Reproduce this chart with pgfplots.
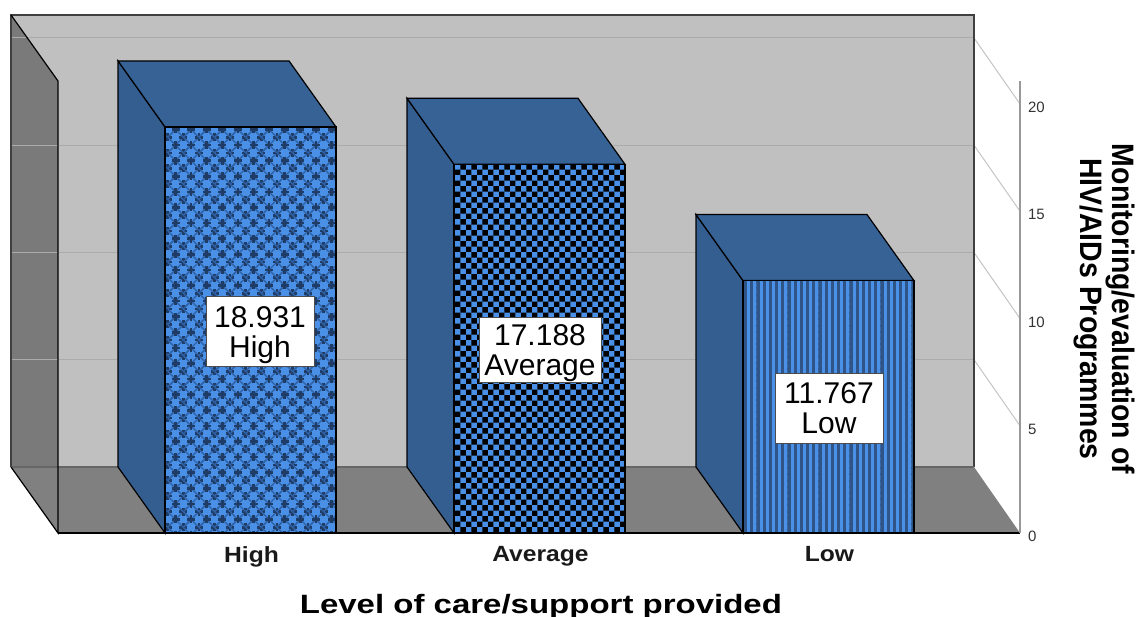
\documentclass[border=0pt]{standalone}
\usepackage{pgfplots}
\pgfplotsset{compat=1.18}
\usepackage{fontspec}
\setmainfont{Liberation Sans}
\usetikzlibrary{patterns}
\definecolor{wallback}{HTML}{C0C0C0}
\definecolor{wallside}{HTML}{7A7A7A}
\definecolor{floorc}{HTML}{808080}
\definecolor{barface}{HTML}{366296}
\definecolor{barside}{HTML}{345E90}
\definecolor{barlight}{HTML}{4A90E6}
\definecolor{bardark}{HTML}{1E3C66}
\definecolor{barmid}{HTML}{2F62A6}
\definecolor{stripedark}{HTML}{2E5488}
\definecolor{gridc}{HTML}{ABABAB}
\definecolor{diagc}{HTML}{C4C4C4}
\pgfdeclarepatterninherentlycolored{starpat}{\pgfqpoint{-4pt}{-4pt}}{\pgfqpoint{20pt}{20pt}}{\pgfqpoint{15.6pt}{15.6pt}}{%
  \pgfsetstrokecolor{barmid}\pgfsetlinewidth{1.4pt}%
  \pgfpathmoveto{\pgfqpoint{-3.9pt}{-3.9pt}}\pgfpathlineto{\pgfqpoint{19.5pt}{19.5pt}}%
  \pgfpathmoveto{\pgfqpoint{-3.9pt}{11.7pt}}\pgfpathlineto{\pgfqpoint{11.7pt}{-3.9pt}}\pgfusepath{stroke}%
  \pgfsetfillcolor{bardark}%
  \pgfpathrectangle{\pgfqpoint{2.6pt}{-0.1pt}}{\pgfqpoint{2.6pt}{8pt}}\pgfusepath{fill}%
  \pgfpathrectangle{\pgfqpoint{-0.1pt}{2.6pt}}{\pgfqpoint{8pt}{2.6pt}}\pgfusepath{fill}%
  \pgfpathrectangle{\pgfqpoint{10.4pt}{7.7pt}}{\pgfqpoint{2.6pt}{8pt}}\pgfusepath{fill}%
  \pgfpathrectangle{\pgfqpoint{7.7pt}{10.4pt}}{\pgfqpoint{8pt}{2.6pt}}\pgfusepath{fill}%
}
\pgfdeclarepatterninherentlycolored{checkpat}{\pgfpointorigin}{\pgfqpoint{11.4pt}{11.4pt}}{\pgfqpoint{11.4pt}{11.4pt}}{%
  \pgfsetfillcolor{black}%
  \pgfpathrectangle{\pgfpointorigin}{\pgfqpoint{5.7pt}{5.7pt}}\pgfusepath{fill}%
  \pgfpathrectangle{\pgfqpoint{5.7pt}{5.7pt}}{\pgfqpoint{5.7pt}{5.7pt}}\pgfusepath{fill}%
}
\pgfdeclarepatterninherentlycolored{stripepat}{\pgfqpoint{0pt}{-1pt}}{\pgfqpoint{6.2pt}{7.2pt}}{\pgfqpoint{6.2pt}{6.2pt}}{%
  \pgfsetfillcolor{stripedark}%
  \pgfpathrectangle{\pgfqpoint{0pt}{-1pt}}{\pgfqpoint{3.1pt}{8.2pt}}\pgfusepath{fill}%
}
\tikzset{valbox/.style={draw=black!70,line width=1pt,fill=white,align=center,
  font=\fontsize{30}{30}\selectfont,inner sep=0pt,text depth=0pt}}
\begin{document}
\begin{tikzpicture}
\path[use as bounding box] (-58pt,-84pt) rectangle (1079pt,533pt);
\begin{axis}[
  anchor=south west, at={(0pt,0pt)},
  scale only axis, width=962pt, height=452pt,
  xmin=-0.6661, xmax=2.6626, ymin=0, ymax=21.072,
  clip=false, axis on top,
  axis x line=bottom, axis y line=right,
  x axis line style={-,black,line width=1.4pt},
  y axis line style={-,black!40,line width=1.2pt},
  major tick length=0pt,
  xtick={0,1,2}, xticklabels={\scalebox{1.12}[1]{High},\scalebox{1.12}[1]{Average},\scalebox{1.12}[1]{Low}},
  ytick={0,5,10,15,20},
  /pgf/number format/assume math mode=true,
  x tick label style={font=\bfseries\fontsize{22}{22}\selectfont,text=black!90,yshift=-10pt,xshift=1pt},
  y tick label style={font=\fontsize{15}{15}\selectfont,text=black!80,yshift=-3.5pt,xshift=4.5pt},
  xlabel={\scalebox{1.245}[1]{Level of care/support provided}},
  xlabel style={font=\bfseries\fontsize{26.5}{26.5}\selectfont,at={(axis description cs:0.502,-0.162)},anchor=center},
  ylabel={\scalebox{0.917}[1]{Monitoring/evaluation of}\\\scalebox{0.917}[1]{HIV/AIDs Programmes}},
  ylabel style={font=\bfseries\fontsize{31}{32}\selectfont,align=center,rotate=180,at={(axis description cs:1.088,0.4956)},anchor=center},
]
% back wall
\addplot[fill=wallback,draw=none] coordinates {(-0.8287,24.149)(2.5035,24.149)(2.5035,3.077)(-0.8287,3.077)} -- cycle;
% left wall
\addplot[fill=wallside,draw=none] coordinates {(-0.8287,24.149)(-0.6661,21.072)(-0.6661,0)(-0.8287,3.077)} -- cycle;
% floor
\addplot[fill=floorc,draw=none] coordinates {(-0.8287,3.077)(2.5035,3.077)(2.6626,0)(-0.6661,0)} -- cycle;
% grid on back wall and its run to the axis
\addplot[gridc,line width=1pt] coordinates {(-0.8287,23.077)(2.5035,23.077)};
\addplot[gridc,line width=1pt] coordinates {(-0.8287,18.077)(2.5035,18.077)};
\addplot[gridc,line width=1pt] coordinates {(-0.8287,13.077)(2.5035,13.077)};
\addplot[gridc,line width=1pt] coordinates {(-0.8287,8.077)(2.5035,8.077)};
\addplot[diagc,line width=1pt] coordinates {(2.5035,23.077)(2.6626,20)};
\addplot[diagc,line width=1pt] coordinates {(2.5035,18.077)(2.6626,15)};
\addplot[diagc,line width=1pt] coordinates {(2.5035,13.077)(2.6626,10)};
\addplot[diagc,line width=1pt] coordinates {(2.5035,8.077)(2.6626,5)};
% frame lines
\addplot[black!75,line width=2.2pt] coordinates {(-0.8287,3.077)(-0.8287,24.149)(2.5035,24.149)(2.5035,3.077)};
\addplot[black!60,line width=1.5pt] coordinates {(-0.8287,3.077)(2.5035,3.077)};
\addplot[black,line width=1.2pt] coordinates {(-0.8287,24.149)(-0.6661,21.072)(-0.6661,0)(-0.8287,3.077)};
% High
\addplot[fill=barside,draw=black,line width=1.2pt] coordinates {(-0.2958,0)(-0.4584,3.077)(-0.4584,22.008)(-0.2958,18.931)} -- cycle;
\addplot[fill=barface,draw=black,line width=1.2pt] coordinates {(-0.2958,18.931)(-0.4584,22.008)(0.1332,22.008)(0.2958,18.931)} -- cycle;
\addplot[ybar,bar shift=0pt,bar width=0.5916,fill=barlight,draw=none,postaction={pattern=starpat}] coordinates {(0,18.931)};
\addplot[ybar,bar shift=0pt,bar width=0.5916,draw=black,line width=1.2pt,fill=none] coordinates {(0,18.931)};
% Average
\addplot[fill=barside,draw=black,line width=1.2pt] coordinates {(0.7042,0)(0.5416,3.077)(0.5416,20.265)(0.7042,17.188)} -- cycle;
\addplot[fill=barface,draw=black,line width=1.2pt] coordinates {(0.7042,17.188)(0.5416,20.265)(1.1332,20.265)(1.2958,17.188)} -- cycle;
\addplot[ybar,bar shift=0pt,bar width=0.5916,fill=barlight,draw=none,postaction={pattern=checkpat}] coordinates {(1,17.188)};
\addplot[ybar,bar shift=0pt,bar width=0.5916,draw=black,line width=1.2pt,fill=none] coordinates {(1,17.188)};
% Low
\addplot[fill=barside,draw=black,line width=1.2pt] coordinates {(1.7042,0)(1.5416,3.077)(1.5416,14.844)(1.7042,11.767)} -- cycle;
\addplot[fill=barface,draw=black,line width=1.2pt] coordinates {(1.7042,11.767)(1.5416,14.844)(2.1332,14.844)(2.2958,11.767)} -- cycle;
\addplot[ybar,bar shift=0pt,bar width=0.5916,fill=barlight,draw=none,postaction={pattern=stripepat}] coordinates {(2,11.767)};
\addplot[ybar,bar shift=0pt,bar width=0.5916,draw=black,line width=1.2pt,fill=none] coordinates {(2,11.767)};
% value boxes
\node[valbox,minimum width=108pt,minimum height=70pt] at (axis cs:0.0329,9.371) {18.931\\High};
\node[valbox,minimum width=122pt,minimum height=65pt] at (axis cs:1.0017,8.532) {17.188\\Average};
\node[valbox,minimum width=108pt,minimum height=70pt] at (axis cs:2.0017,5.827) {11.767\\Low};
\end{axis}
\end{tikzpicture}
\end{document}
